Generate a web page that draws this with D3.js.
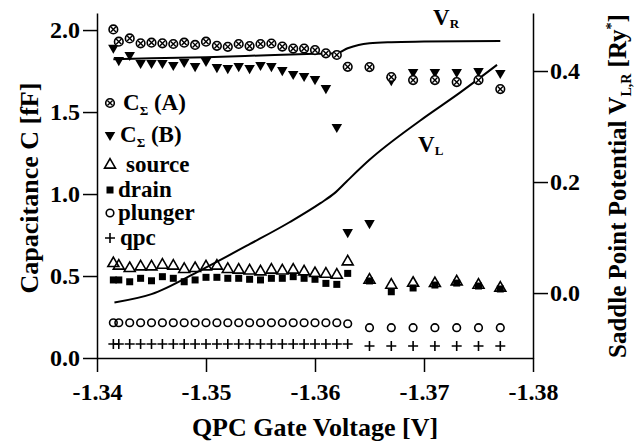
<!DOCTYPE html>
<html>
<head>
<meta charset="utf-8">
<script src="https://cdn.jsdelivr.net/npm/d3@7"></script>
<style>
  body { margin: 0; background: #fff; }
</style>
</head>
<body>
<div id="chart"></div>
<script>
// gate voltage of every measured point (dense run, then sparse run)
const voltage = [-1.3415, -1.342, -1.343, -1.344, -1.345, -1.346, -1.347, -1.348, -1.349, -1.350,
                 -1.351, -1.352, -1.353, -1.354, -1.355, -1.356, -1.357, -1.358, -1.359, -1.360,
                 -1.361, -1.362, -1.363,
                 -1.365, -1.367, -1.369, -1.371, -1.373, -1.375, -1.377];

const cSumA = [2.004, 1.929, 1.949, 1.919, 1.923, 1.919, 1.915, 1.923, 1.909, 1.929,
               1.904, 1.898, 1.915, 1.902, 1.915, 1.918, 1.899, 1.887, 1.887, 1.878,
               1.858, 1.848, 1.776,
               1.774, 1.713, 1.695, 1.695, 1.683, 1.695, 1.640];

const cSumB = [1.892, 1.817, 1.848, 1.799, 1.799, 1.799, 1.787, 1.805, 1.780, 1.811,
               1.774, 1.768, 1.780, 1.768, 1.787, 1.780, 1.756, 1.732, 1.720, 1.701,
               1.646, 1.409, 0.768,
               0.823, 1.695, 1.744, 1.744, 1.744, 1.750, 1.738];

const cSource = [0.577, 0.561, 0.547, 0.557, 0.557, 0.567, 0.561, 0.541, 0.547, 0.557,
                 0.561, 0.541, 0.537, 0.532, 0.526, 0.537, 0.532, 0.537, 0.526, 0.516,
                 0.512, 0.506, 0.587,
                 0.476, 0.445, 0.457, 0.455, 0.465, 0.445, 0.427];

const cDrain = [0.476, 0.476, 0.465, 0.486, 0.471, 0.496, 0.486, 0.465, 0.476, 0.492,
                0.492, 0.486, 0.486, 0.480, 0.476, 0.486, 0.486, 0.496, 0.486, 0.480,
                0.455, 0.449, 0.516,
                0.470, 0.404, 0.427, 0.445, 0.457, 0.439, 0.421];

const cPlunger = [0.215, 0.215, 0.215, 0.215, 0.215, 0.215, 0.215, 0.215, 0.215, 0.215,
                  0.215, 0.215, 0.215, 0.215, 0.215, 0.215, 0.215, 0.215, 0.215, 0.215,
                  0.215, 0.215, 0.209,
                  0.185, 0.185, 0.185, 0.185, 0.185, 0.185, 0.185];

const cQpc = [0.085, 0.085, 0.085, 0.085, 0.085, 0.085, 0.085, 0.085, 0.085, 0.085,
              0.085, 0.085, 0.085, 0.085, 0.085, 0.085, 0.085, 0.085, 0.085, 0.085,
              0.085, 0.085, 0.085,
              0.073, 0.073, 0.073, 0.073, 0.073, 0.073, 0.073];

// saddle point potentials (right axis)
const vrVoltage = [-1.3415, -1.345, -1.350, -1.355, -1.360, -1.362, -1.363, -1.364, -1.365, -1.367, -1.370, -1.377];
const vrValues  = [0.421, 0.423, 0.425, 0.428, 0.431, 0.432, 0.441, 0.447, 0.450, 0.452, 0.453, 0.454];

const vlVoltage = [-1.3416, -1.345, -1.3495, -1.354, -1.3577, -1.3605, -1.3618, -1.3629, -1.365, -1.3696, -1.3733, -1.3767];
const vlValues  = [-0.017, -0.002, 0.041, 0.088, 0.128, 0.162, 0.180, 0.201, 0.240, 0.310, 0.361, 0.411];

const xTicks = [-1.34, -1.35, -1.36, -1.37, -1.38];
const yLeftTicks = [0.0, 0.5, 1.0, 1.5, 2.0];
const yRightTicks = [0.0, 0.2, 0.4];

const width = 641, height = 445;
const serif = "'Liberation Serif', 'Times New Roman', Times, serif";

const svg = d3.select("#chart").append("svg")
    .attr("width", width)
    .attr("height", height)
    .style("font-family", serif)
    .style("font-weight", "bold");

const x = d3.scaleLinear().domain([-1.34, -1.38]).range([97, 533]);
const yL = d3.scaleLinear().domain([0, 2.104]).range([358, 13]);
const yR = d3.scaleLinear().domain([-0.117, 0.5045]).range([358, 13]);

// axes
const axL = svg.append("g").attr("transform", "translate(97,0)")
    .call(d3.axisLeft(yL).tickValues(yLeftTicks).tickFormat(d => d.toFixed(1)).tickSize(14).tickSizeOuter(0).tickPadding(3));
const axR = svg.append("g").attr("transform", "translate(533,0)")
    .call(d3.axisRight(yR).tickValues(yRightTicks).tickFormat(d => d.toFixed(1)).tickSize(15).tickSizeOuter(0).tickPadding(2));
const axB = svg.append("g").attr("transform", "translate(0,358)")
    .call(d3.axisBottom(x).tickValues(xTicks).tickFormat(d => d.toFixed(2)).tickSize(14).tickSizeOuter(0).tickPadding(11));

[axL, axR, axB].forEach(a => {
    a.attr("font-family", serif).attr("font-size", 24).attr("font-weight", "bold");
    a.selectAll("path, line").attr("stroke", "#000").attr("stroke-width", 1.5);
    a.selectAll("text").attr("fill", "#000");
});

// axis titles
svg.append("text")
    .attr("transform", "translate(38,188) rotate(-90)")
    .attr("text-anchor", "middle")
    .attr("font-size", 26)
    .text("Capacitance C [fF]");

const rt = svg.append("text")
    .attr("transform", "translate(626,186) rotate(-90)")
    .attr("text-anchor", "middle")
    .attr("font-size", 25);
rt.append("tspan").text("Saddle Point Potential V");
rt.append("tspan").attr("dy", 5).attr("font-size", 14).text("L,R");
rt.append("tspan").attr("dy", -5).text(" [Ry");
rt.append("tspan").attr("dy", -10).attr("font-size", 14).text("*");
rt.append("tspan").attr("dy", 10).text("]");

svg.append("text")
    .attr("x", 315).attr("y", 436)
    .attr("text-anchor", "middle")
    .attr("font-size", 26)
    .text("QPC Gate Voltage [V]");

// potential lines
const lineV = d3.line().x(d => x(d[0])).y(d => yR(d[1])).curve(d3.curveMonotoneX);
svg.append("path")
    .datum(d3.zip(vrVoltage, vrValues))
    .attr("d", lineV)
    .attr("fill", "none").attr("stroke", "#000").attr("stroke-width", 2);
svg.append("path")
    .datum(d3.zip(vlVoltage, vlValues))
    .attr("d", lineV)
    .attr("fill", "none").attr("stroke", "#000").attr("stroke-width", 2);

// markers
const markers = {
    otimes: g => {
        g.append("circle").attr("r", 4.3).attr("fill", "#fff").attr("stroke", "#000").attr("stroke-width", 1.6);
        g.append("path").attr("d", "M-2.6,-2.6L2.6,2.6M-2.6,2.6L2.6,-2.6").attr("stroke", "#000").attr("stroke-width", 1.4);
    },
    triDown: g => g.append("path").attr("d", d3.symbol(d3.symbolTriangle, 48)()).attr("transform", "rotate(180)").attr("fill", "#000"),
    triUp: g => g.append("path").attr("d", d3.symbol(d3.symbolTriangle, 52)()).attr("fill", "none").attr("stroke", "#000").attr("stroke-width", 1.6),
    square: g => g.append("rect").attr("x", -3.5).attr("y", -3.5).attr("width", 7).attr("height", 7).attr("fill", "#000"),
    ring: g => g.append("circle").attr("r", 3.8).attr("fill", "none").attr("stroke", "#000").attr("stroke-width", 1.6),
    plus: g => g.append("path").attr("d", "M-5,0H5M0,-5V5").attr("stroke", "#000").attr("stroke-width", 1.6)
};

const series = [
    { values: cSource, mark: "triUp" },
    { values: cDrain, mark: "square" },
    { values: cPlunger, mark: "ring" },
    { values: cQpc, mark: "plus" },
    { values: cSumB, mark: "triDown" },
    { values: cSumA, mark: "otimes" }
];

series.forEach(s => {
    svg.append("g").selectAll("g")
        .data(d3.zip(voltage, s.values))
        .join("g")
        .attr("transform", d => `translate(${x(d[0])},${yL(d[1])})`)
        .each(function() { markers[s.mark](d3.select(this)); });
});

// legend
const legend = [
    { mark: "otimes", y: 103, tx: 123, main: "C", sub: "\u03A3", rest: " (A)" },
    { mark: "triDown", y: 135, tx: 120, main: "C", sub: "\u03A3", rest: " (B)" },
    { mark: "triUp", y: 165, tx: 126, main: "source" },
    { mark: "square", y: 190, tx: 118, main: "drain" },
    { mark: "ring", y: 213, tx: 118, main: "plunger" },
    { mark: "plus", y: 238, tx: 120, main: "qpc" }
];

legend.forEach(l => {
    const g = svg.append("g").attr("transform", `translate(110,${l.y})`);
    markers[l.mark](g);
    const t = svg.append("text").attr("x", l.tx).attr("y", l.y + 7).attr("font-size", 23);
    t.append("tspan").text(l.main);
    if (l.sub) {
        t.append("tspan").attr("dy", 5).attr("font-size", 13).text(l.sub);
        t.append("tspan").attr("dy", -5).text(l.rest);
    }
});

// line labels
const vlab = [
    { x: 433, y: 25, sub: "R" },
    { x: 418, y: 152, sub: "L" }
];
vlab.forEach(v => {
    const t = svg.append("text").attr("x", v.x).attr("y", v.y).attr("font-size", 23);
    t.append("tspan").text("V");
    t.append("tspan").attr("dy", 3).attr("font-size", 13).text(v.sub);
});
</script>
</body>
</html>
